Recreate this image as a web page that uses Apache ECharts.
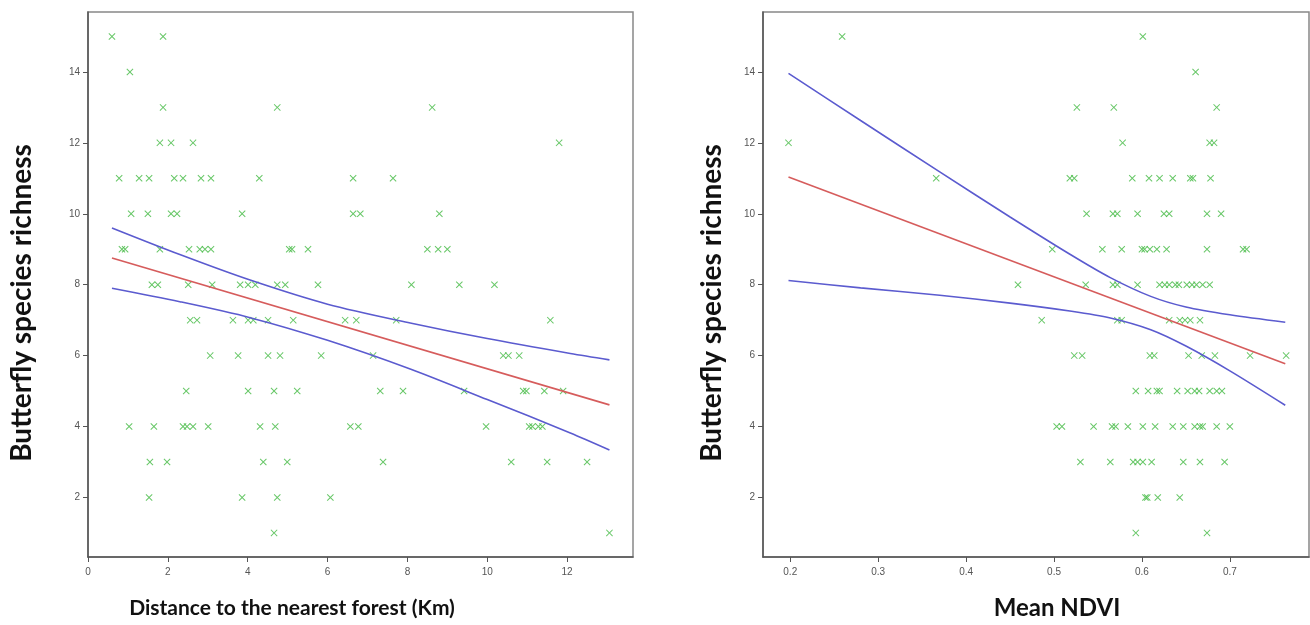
<!DOCTYPE html>
<html>
<head>
<meta charset="utf-8">
<script src="https://cdn.jsdelivr.net/npm/echarts@6/dist/echarts.min.js"></script>
<style>
  html, body { margin: 0; padding: 0; background: #fff; }
  #chart { width: 1310px; height: 625px; }
</style>
</head>
<body>
<div id="chart"></div>
<script>
// richness value -> x positions of the crosses on that row
const distanceRows = [
  [15, [0.6, 1.88]],
  [14, [1.05]],
  [13, [1.88, 4.74, 8.62]],
  [12, [1.8, 2.08, 2.63, 11.8]],
  [11, [0.78, 1.28, 1.53, 2.16, 2.38, 2.83, 3.08, 4.29, 6.64, 7.64]],
  [10, [1.08, 1.5, 2.08, 2.23, 3.86, 6.64, 6.82, 8.8]],
  [9, [0.85, 0.93, 1.8, 2.53, 2.8, 2.93, 3.08, 5.04, 5.11, 5.51, 8.5, 8.77, 9.0]],
  [8, [1.6, 1.75, 2.51, 3.11, 3.81, 4.01, 4.19, 4.74, 4.94, 5.76, 8.1, 9.3, 10.18]],
  [7, [2.56, 2.73, 3.63, 4.01, 4.14, 4.51, 5.14, 6.44, 6.72, 7.72, 11.58]],
  [6, [3.06, 3.76, 4.51, 4.81, 5.84, 7.14, 10.4, 10.53, 10.8]],
  [5, [2.46, 4.01, 4.66, 5.24, 7.32, 7.89, 9.42, 10.9, 10.98, 11.43, 11.9]],
  [4, [1.03, 1.65, 2.38, 2.48, 2.63, 3.01, 4.31, 4.69, 6.57, 6.77, 9.97, 11.05, 11.13, 11.28, 11.38]],
  [3, [1.55, 1.98, 4.39, 4.99, 7.39, 10.6, 11.5, 12.5]],
  [2, [1.53, 3.86, 4.74, 6.07]],
  [1, [4.66, 13.06]]
];

const ndviRows = [
  [15, [0.259, 0.601]],
  [14, [0.661]],
  [13, [0.526, 0.568, 0.685]],
  [12, [0.198, 0.578, 0.677, 0.682]],
  [11, [0.366, 0.518, 0.523, 0.589, 0.608, 0.62, 0.635, 0.655, 0.658, 0.678]],
  [10, [0.537, 0.567, 0.572, 0.595, 0.625, 0.631, 0.674, 0.69]],
  [9, [0.498, 0.555, 0.577, 0.6, 0.603, 0.609, 0.617, 0.628, 0.674, 0.715, 0.719]],
  [8, [0.459, 0.536, 0.567, 0.572, 0.595, 0.62, 0.626, 0.631, 0.638, 0.642, 0.651, 0.657, 0.662, 0.669, 0.677]],
  [7, [0.486, 0.572, 0.577, 0.631, 0.643, 0.649, 0.655, 0.666]],
  [6, [0.523, 0.532, 0.609, 0.614, 0.653, 0.668, 0.683, 0.723, 0.764]],
  [5, [0.593, 0.607, 0.617, 0.62, 0.64, 0.652, 0.66, 0.665, 0.677, 0.685, 0.691]],
  [4, [0.503, 0.509, 0.545, 0.566, 0.57, 0.584, 0.601, 0.615, 0.635, 0.647, 0.66, 0.666, 0.669, 0.685, 0.7]],
  [3, [0.53, 0.564, 0.59, 0.595, 0.601, 0.611, 0.647, 0.666, 0.694]],
  [2, [0.604, 0.606, 0.618, 0.643]],
  [1, [0.593, 0.674]]
];

// fitted line and confidence band
const distanceFit = [[0.6, 8.75], [13.06, 4.61]];
const distanceUpper = [[0.6, 9.6], [2.3, 8.85], [4.06, 8.13], [6, 7.45], [8.07, 6.92],
  [10, 6.48], [12.08, 6.06], [13.06, 5.88]];
const distanceLower = [[0.6, 7.9], [2.3, 7.52], [4.06, 7.07], [6, 6.43], [8.07, 5.62],
  [10, 4.76], [12.08, 3.82], [13.06, 3.34]];

const ndviFit = [[0.198, 11.04], [0.763, 5.77]];
const ndviUpper = [[0.198, 13.96], [0.28, 12.63], [0.37, 11.18], [0.45, 9.91], [0.52, 8.83],
  [0.564, 8.2], [0.61, 7.67], [0.65, 7.37], [0.7, 7.15], [0.763, 6.94]];
const ndviLower = [[0.198, 8.12], [0.28, 7.91], [0.37, 7.7], [0.45, 7.48], [0.52, 7.25],
  [0.564, 7.06], [0.61, 6.73], [0.65, 6.27], [0.7, 5.57], [0.763, 4.6]];

const distanceTicks = [0, 2, 4, 6, 8, 10, 12];
const ndviTicks = [0.2, 0.3, 0.4, 0.5, 0.6, 0.7];
const richnessTicks = [2, 4, 6, 8, 10, 12, 14];

const GREEN = "#4cbd4c";
const RED = "#d65c5c";
const BLUE = "#5b5bcf";
const CROSS = "path://M0,1L1,0L5,4L9,0L10,1L6,5L10,9L9,10L5,6L1,10L0,9L4,5Z";

function toPoints(rows) {
  const out = [];
  rows.forEach(([y, xs]) => xs.forEach((x) => out.push([x, y])));
  return out;
}

function xAxis(gridIndex, min, max, ticks, fmt) {
  return {
    type: "value", gridIndex, min, max,
    splitLine: { show: false },
    axisLine: { show: true, onZero: false, lineStyle: { color: "#555", width: 1.5 } },
    axisTick: { show: true, length: 5, customValues: ticks, lineStyle: { color: "#555" } },
    axisLabel: { customValues: ticks, color: "#555", fontSize: 10, margin: 10,
      fontFamily: "Liberation Sans", formatter: fmt },
  };
}

function yAxis(gridIndex) {
  return {
    type: "value", gridIndex, min: 0.32, max: 15.69,
    splitLine: { show: false },
    axisLine: { show: true, onZero: false, lineStyle: { color: "#555", width: 1.5 } },
    axisTick: { show: true, length: 5, customValues: richnessTicks, lineStyle: { color: "#555" } },
    axisLabel: { customValues: richnessTicks, color: "#555", fontSize: 10, margin: 8,
      fontFamily: "Liberation Sans" },
  };
}

function scatter(i, rows) {
  return {
    type: "scatter", xAxisIndex: i, yAxisIndex: i, data: toPoints(rows),
    symbol: CROSS, symbolSize: 7, silent: true,
    itemStyle: { color: GREEN, opacity: 0.85 },
  };
}

function line(i, data, color, smooth) {
  return {
    type: "line", xAxisIndex: i, yAxisIndex: i, data, showSymbol: false, silent: true,
    smooth: smooth ? 0.3 : false,
    lineStyle: { color, width: 1.6 },
    z: 3,
  };
}

function title(text, x, y, size, vertical) {
  return {
    type: "text", x, y, rotation: vertical ? Math.PI / 2 : 0,
    style: {
      text, font: `bold ${size}px Lato`, fill: "#111",
      textAlign: "center", align: "center",
      textVerticalAlign: "middle", verticalAlign: "middle",
    },
  };
}

const chart = echarts.init(document.getElementById("chart"));
chart.setOption({
  animation: false,
  grid: [
    { left: 88, right: 677, top: 12, bottom: 68, show: true, borderColor: "#888", borderWidth: 1.5 },
    { left: 763, right: 1, top: 12, bottom: 68, show: true, borderColor: "#888", borderWidth: 1.5 },
  ],
  xAxis: [
    xAxis(0, 0, 13.65, distanceTicks, (v) => String(v)),
    xAxis(1, 0.169, 0.79, ndviTicks, (v) => v.toFixed(1)),
  ],
  yAxis: [yAxis(0), yAxis(1)],
  series: [
    scatter(0, distanceRows),
    line(0, distanceUpper, BLUE, true),
    line(0, distanceLower, BLUE, true),
    line(0, distanceFit, RED, false),
    scatter(1, ndviRows),
    line(1, ndviUpper, BLUE, true),
    line(1, ndviLower, BLUE, true),
    line(1, ndviFit, RED, false),
  ],
  graphic: [
    title("Butterfly species richness", 22, 303, 28, true),
    title("Butterfly species richness", 712, 303, 28, true),
    title("Distance to the nearest forest (Km)", 292, 608, 21, false),
    title("Mean NDVI", 1057, 608, 24, false),
  ],
});
</script>
</body>
</html>
